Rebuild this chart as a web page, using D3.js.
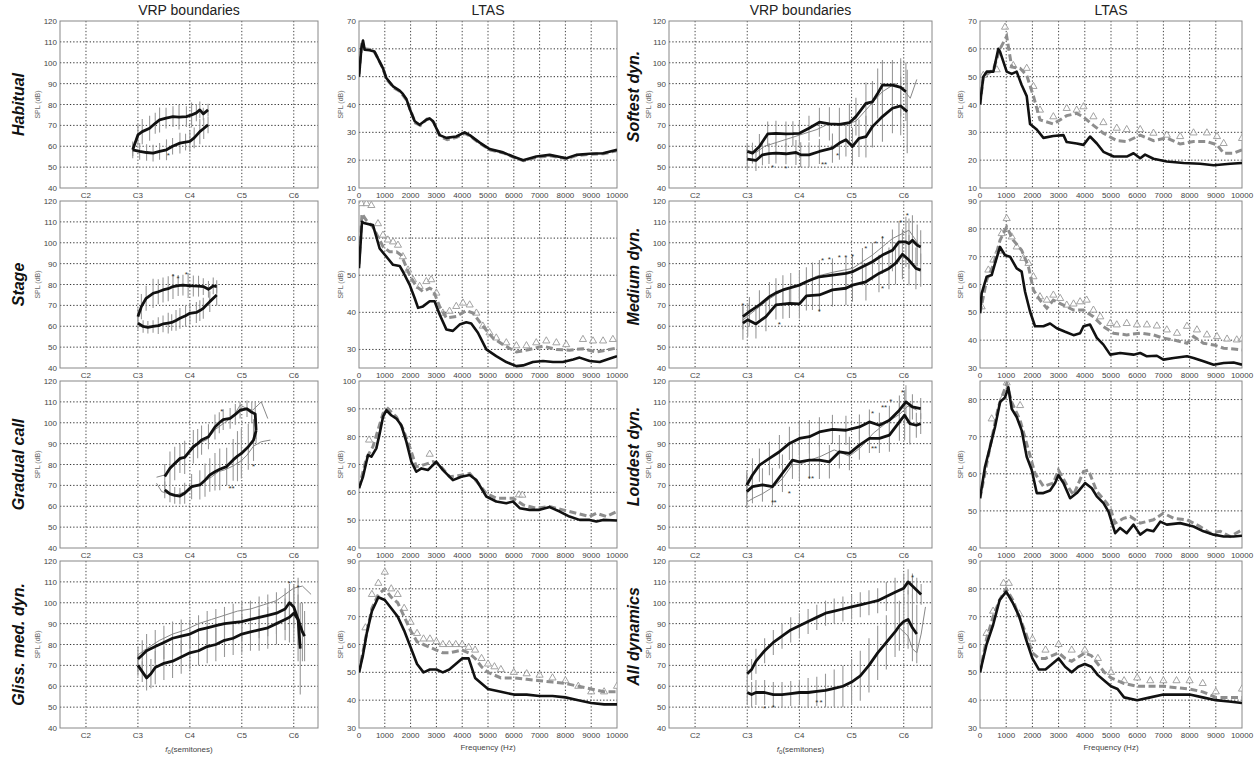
<!DOCTYPE html>
<html><head><meta charset="utf-8">
<script src="https://cdn.jsdelivr.net/npm/d3@7"></script>
<style>
body{margin:0;background:#fff}
svg{font-family:"Liberation Sans",Arial,sans-serif}
</style>
</head><body>
<svg id="fig" width="1255" height="757"></svg>
<script>
// ---------- axis ticks ----------
const noteTicks = [36, 48, 60, 72, 84];
const noteLabels = ["C2", "C3", "C4", "C5", "C6"];
const freqTicks = [0,1000,2000,3000,4000,5000,6000,7000,8000,9000,10000];
const vrpDbTicks = [40,50,60,70,80,90,100,110,120];

// ---------- VRP boundaries: [semitone, SPL dB, spread dB] ----------
const habitualUpper = [[46.8,58.3,4],[48,65.4,5],[49,67,6],[50.7,68.6,6],[52,71,5],[53,72.6,6],[54.5,73.5,5],[56.1,74.2,5],[57.5,74,6],[59.2,74.2,5],[60.4,75,6],[61.5,76,4],[62.3,77.4,4],[63.1,75.5,3],[64.2,77.4,3]];
const habitualLower = [[46.8,58.3,3],[48.4,57.5,4],[50,57,4],[51.5,56.7,4],[53,57.5,4],[54.6,58.3,5],[56,60,4],[57.7,61.5,5],[59,62,4],[60,62.3,5],[61,64,5],[62.3,67,6],[63.2,68.5,5],[64.2,70.2,4]];
const habitualStars = [[55,56.2]];

const stageUpper = [[48,64.6,4],[48.8,69.4,6],[49.9,73.4,6],[51.5,75.8,7],[52.7,76.5,6],[53.8,77.4,6],[55,78,6],[56.1,79,6],[57.3,79.5,5],[58.4,79.7,5],[59.6,79.5,6],[60.8,79.3,5],[62,79.2,5],[63.1,79,4],[64.3,77.7,4],[65.4,79.3,4],[66.2,79,3]];
const stageLower = [[48,61.5,3],[49.2,59.9,3],[50.3,59.5,3],[51.5,59.9,3],[52.7,60.3,4],[53.8,61.1,4],[55,61.5,5],[55.8,61.8,4],[56.8,62.8,5],[57.7,63.8,5],[59,65,5],[60,66.2,5],[61.5,66.6,5],[62.3,67.5,5],[63.1,68.6,5],[64.6,71.8,5],[66.2,75,5]];
const stageStars = [[56.1,84.5],[57.3,83.4],[59.2,85.3]];

const gradualUpper = [[54.2,74.2,6],[55.4,78.2,8],[56.5,80.5,8],[57.7,82.9,7],[58.8,83.4,8],[60.8,88.5,8],[61.8,90,7],[62.7,91.7,7],[64.3,93.3,6],[65.8,98,6],[66.8,100,5],[67.7,101.5,5],[69.3,102.1,5],[70.5,104,5],[71.6,106,4],[73.2,106.7,4],[74.3,105,5],[75.1,104.2,6],[75.3,96.2,4]];
const gradualLower = [[54.2,67.8,4],[55.4,65.9,4],[56.5,65.2,4],[57.7,64.9,4],[58.8,66.2,5],[60.4,69.4,6],[62.3,70.2,7],[63.5,72.5,8],[64.6,75,8],[65.8,76.5,9],[66.9,77.7,10],[68.5,79,9],[70,82.2,10],[71,84,12],[71.9,85.3,12],[73.5,88.5,11],[74.7,91.7,10],[75.3,96.2,6]];
const gradualThinA = [[52.3,73.9],[54.2,75],[56,79],[58,82.5],[60,86],[62,90],[64,92],[66,97],[68,100],[70,103],[71.6,108.4],[73,107],[74.5,106],[76.5,110],[78,102]];
const gradualThinB = [[52.3,71],[53.5,67],[55,66],[57,65.5],[59,67],[61,69.5],[63,71.5],[65,74],[66.6,76.6],[68,77.4],[70,79.3],[72,82],[73.2,84.5],[74.7,88.8],[76.5,90.9],[78.6,91.7]];
const gradualStars = [[67.4,106],[69.3,69.4],[70,69.4],[74.7,79.7]];

const glissUpper = [[48,73,6],[49,75,7],[50,77,8],[52,79,8],[54,81,8],[56,83,8],[58,84,8],[60,85,7],[62,87,7],[64,88,8],[66,89,8],[68,90,8],[70,90.5,9],[72,91,9],[74,92,9],[76,93,10],[78,94,10],[80,95,10],[82,97,10],[83,100,9],[84,98,10],[85,92,12],[86,86,14],[86.5,84,12]];
const glissLower = [[48,70,5],[49,67,5],[50,64,6],[51,66,7],[52,69,8],[54,71,8],[56,72,8],[58,74,8],[60,76,8],[62,77,7],[64,79,8],[66,80,8],[68,82,8],[70,83,8],[72,85,9],[74,86,9],[76,87,10],[78,88,10],[80,90,10],[82,92,10],[83,93,12],[84,95,14],[85,92,20],[85.5,78,22]];
const glissThin = [[48,75],[50,78],[53,82],[56,85],[59,87],[62,90],[65,92],[68,94],[71,96],[74,97],[77,99],[80,101],[82,104],[84,107],[86,108],[88,104]];
const glissStars = [[83,110],[85,108]];

const softestUpper = [[48,57.5,4],[49.2,56.7,5],[50.8,59.9,6],[52.7,65.9,6],[54.6,66.2,6],[56.9,65.9,6],[58.5,66,6],[60,66.2,6],[62.2,68.6,6],[64.6,71.5,7],[66.9,70.7,8],[69.2,70.5,8],[71.5,71.3,9],[73,74.2,9],[75.3,80.5,10],[76.8,81.3,10],[78,85.3,12],[79.1,89.3,12],[81.4,89.3,12],[83.3,88.2,14],[84.5,86.1,14]];
const softestLower = [[48,53.8,5],[50,53.2,5],[51.5,55.9,5],[53,56.5,5],[54.6,56.7,5],[56.9,56.4,5],[59.2,57,6],[60.3,55.9,6],[62.2,55.9,6],[64.6,57.5,6],[67.6,59.1,7],[69.2,61.5,8],[70.7,63.1,8],[72.2,59.9,9],[73.7,63.8,9],[75.3,64.6,10],[76.8,69.4,10],[79.1,74.2,12],[81.4,78.2,12],[83.3,79.3,14],[84.8,76.6,20]];
const softestThin = [[48,58],[50,57],[52,60],[55,62],[58,64],[61,66],[64,68],[67,71],[70,70],[73,72],[76,79],[79,86],[82,90],[84,87],[85.5,83],[87,92]];
const softestStars = [[53.8,50.3],[56.9,50],[65.3,52.2],[66,52.2],[68.8,56.4]];

const mediumUpper = [[47,64.6,6],[48.5,67,7],[50.8,70.2,7],[53.1,74.2,7],[54.6,76,7],[56.2,77.4,7],[58,78.5,7],[60,79.7,7],[61.6,81.3,7],[63,82.5,8],[64.6,83.7,8],[67.6,84.5,8],[70.7,85.3,8],[72.2,86.1,8],[74.5,88.5,9],[76.8,90.9,9],[79.1,94.1,9],[81.4,96.4,10],[82.9,100.4,10],[84.5,100.4,12],[85.2,99.6,12],[86,101.2,12],[87.1,98.8,10],[87.9,98,8]];
const mediumLower = [[47,61.5,8],[48.1,63.1,8],[50,61.1,7],[52.3,64.6,7],[54.6,70.2,7],[56.2,70.6,7],[57.7,71,7],[60,70.7,7],[61.6,74.5,7],[63,74.8,7],[64.6,75,8],[67.6,77.4,8],[70.7,78.2,8],[72.2,79.7,8],[75.3,81.3,9],[78.3,85.3,9],[80.6,87.7,10],[82.1,90.1,10],[83.7,94.5,12],[85.2,91.7,12],[86.8,87.7,10],[87.9,86.9,8]];
const mediumThin = [[47,63],[50,68],[53,73],[56,77],[60,80],[64,84],[68,86],[72.2,87.7],[76.8,94.1],[81.4,102],[85.2,106],[87.5,99]];
const mediumStars = [[65.3,92],[66.9,92.5],[69.2,93.7],[70.7,93.7],[72.2,94],[75.3,98],[77.6,100.4],[79.1,102.8],[83.3,110.4],[84.8,114],[79.1,79],[64.6,68],[55.4,61.5],[47,70.5]];

const loudestUpper = [[47.9,70.2,7],[49.2,75,8],[50.8,79.7,8],[53.1,82.9,8],[55.4,86.1,8],[57.7,90.1,8],[60,92.5,8],[62.3,93.3,8],[64.6,95.6,7],[67.6,96.8,7],[70.7,96.4,7],[73.8,98,6],[76.1,100.4,6],[78.4,98.8,6],[80.7,101.2,7],[83,106,7],[84.5,110,8],[86,107.6,6],[87.9,106.8,5]];
const loudestLower = [[47.9,67,8],[49.2,69.4,8],[51.5,70.2,8],[53.8,69.4,9],[56.1,75.8,9],[58.4,82.1,9],[60,81.3,9],[62.3,82.1,9],[64.6,82.1,9],[66.9,81.3,8],[69.2,86.1,8],[71.5,85.3,8],[73.8,89.3,7],[76.1,92.5,7],[78.4,92.5,7],[80.7,94.1,8],[83,100.4,9],[84.2,103.6,12],[85.4,99.6,10],[86.9,98.8,6],[87.9,99.6,5]];
const loudestThin = [[47.9,62],[49.5,64],[51.5,66],[53.8,69],[56,73],[58.4,80],[60,80],[62.3,82],[65,84],[68,87],[71.5,84],[74,88],[77,95],[80,100],[83,104],[85,108],[87,106]];
const loudestStars = [[76.8,105.2],[79.1,107.9],[79.8,107.9],[81,110.7],[83.7,115.2],[53.8,62.7],[54.4,62.7],[57.7,67],[62.3,73.9],[63,73.9],[76.8,88.2],[77.5,88.2]];

const allUpper = [[48,66,4],[49,68,5],[50,72,6],[52,77,6],[54,81,6],[56,84,6],[58,87,6],[60,89,6],[62,91,6],[64,93,6],[66,95,6],[68,96,6],[70,97,6],[72,98,6],[74,99,6],[76,100,6],[78,101,6],[80,103,7],[82,105,7],[84,107,7],[85,110,6],[86,108,6],[87,106,6],[88,104,5]];
const allLower = [[48,57,6],[49,56,6],[50,57,6],[52,57,6],[54,56,6],[56,56,6],[58,56.5,6],[60,57,6],[62,57,7],[64,57.5,7],[66,58,8],[68,59,9],[70,60,10],[72,62,11],[74,65,12],[76,70,13],[78,76,13],[80,81,13],[82,86,12],[83,89,12],[84,91,12],[85,92,14],[86,88,16],[87,85,14]];
const allThin = [[83,88],[85,84],[86,78],[87,76],[88,85],[89,98]];
const allStars = [[52,50],[54,50.5],[64,53],[65,53],[86,113]];

// ---------- LTAS: [Hz, SPL dB] ----------
const habitualLtasBlack = [[0,50],[90,60],[155,63],[220,59.7],[413,59.5],[600,59],[930,53],[1060,49.5],[1320,46.5],[1576,45],[1700,43.8],[1835,42],[1964,38.5],[2160,34],[2350,32.7],[2610,34.5],[2740,35],[2870,34],[3125,29],[3385,28],[3770,28.5],[4095,30],[4290,29],[4680,26.3],[5065,24],[5580,22.8],[5970,21.3],[6360,20],[6870,21.3],[7390,21.9],[8040,20.7],[8420,21.9],[8940,22.3],[9460,22.5],[10000,23.7]];
const habitualLtasDash = [[0,51],[100,61],[200,60],[420,59.8],[620,58.6],[900,53.5],[1080,49],[1350,46],[1600,44.6],[1850,41.5],[2000,37.8],[2180,33.4],[2380,32.5],[2640,34.8],[2780,34.8],[2900,33.5],[3150,28.5],[3420,27.4],[3780,28.2],[4100,29.6],[4320,28.6],[4700,25.9],[5100,23.6],[5600,22.6],[6000,21],[6380,19.8],[6900,21],[7400,21.6],[8060,20.5],[8450,21.7],[8960,22.1],[9480,22.3],[10000,23.4]];
const habitualLtasTri = [];

const stageLtasBlack = [[0,51.9],[116,64.4],[220,64],[540,63.5],[670,60.4],[800,57.2],[1120,54.5],[1320,52.8],[1576,52.5],[1700,51],[1964,47.4],[2160,43.8],[2290,41.2],[2480,41.6],[2740,43],[2930,43],[3125,39.4],[3385,35.4],[3640,35],[3900,36.7],[4160,37.3],[4350,37],[4610,34.5],[4935,30],[5320,28.2],[5710,26.6],[6100,25.5],[6360,25.7],[6740,26.6],[7130,26.9],[7520,26.6],[7900,26.6],[8300,27.3],[8550,27.8],[8940,26.9],[9330,26.6],[9700,27.5],[10000,28.2]];
const stageLtasDash = [[0,53],[116,66.6],[284,64.8],[540,63],[800,59.5],[930,57.7],[1190,56.3],[1450,56.3],[1640,55.4],[1964,50],[2220,47],[2480,45.6],[2740,46.5],[2870,46],[3125,41.6],[3385,38.5],[3770,38.9],[4160,40.5],[4420,39.8],[4800,36.3],[5190,33.1],[5580,31.3],[6100,29.3],[6610,30],[7130,30.9],[7650,30],[8160,29.8],[8680,30.2],[9200,29.3],[9700,30],[10000,30.4]];
const stageLtasTri = [[90,69.3],[290,69.3],[478,68.8],[736,63.9],[930,60.8],[1120,59.5],[1320,59],[1510,58.1],[1700,55],[1900,51.4],[2090,48.8],[2350,47],[2610,48.3],[2800,48.8],[3000,45.2],[3250,39.8],[3510,40.3],[3770,41.6],[4030,42.5],[4290,42],[4550,39.8],[4800,36.3],[5060,34.5],[5320,33.1],[5710,31.8],[6100,31],[6490,31],[6870,31.8],[7260,32.3],[7650,31.8],[8030,31.3],[8680,32.7],[9070,32.3],[9460,32.3],[9840,32.7]];

const gradualLtasBlack = [[0,61.5],[155,65.6],[349,73.4],[478,72.8],[672,75.8],[800,81.1],[930,87.1],[1060,89.5],[1250,87.7],[1450,86.5],[1640,84.1],[1835,78.2],[2030,71],[2220,67.4],[2420,68.6],[2670,68],[2995,71],[3255,68],[3640,64.4],[3965,65.6],[4290,66.2],[4550,64.4],[4935,58.5],[5320,56.7],[5710,56.1],[5970,56.7],[6230,54.3],[6610,53.7],[7000,53.7],[7390,54.7],[7780,53.1],[8160,51.3],[8550,50.1],[8940,50.1],[9200,49.5],[9460,50.1],[10000,49.9]];
const gradualLtasDash = [[0,61.5],[284,72.2],[540,76.4],[930,88.3],[1120,90.1],[1450,87.1],[1700,82.9],[1960,76.4],[2220,69.2],[2480,69.8],[2870,71],[3125,69.8],[3510,65.6],[4030,66.2],[4290,66.8],[4680,62.6],[4935,59.6],[5320,57.9],[5970,57.9],[6360,55.5],[6870,54.3],[7390,54.9],[7900,53.7],[8420,52.5],[8940,51.3],[9200,52.5],[9590,51.3],[10000,53.1]];
const gradualLtasTri = [[390,78.8],[2740,73.7],[6200,59.1],[6330,59]];

const glissLtasBlack = [[0,50],[150,56],[300,64],[500,72],[750,77],[1000,76],[1250,73],[1500,70],[1750,65],[2000,59],[2250,53],[2500,50],[2750,51],[3000,51],[3250,50],[3500,51],[3750,53],[4000,55],[4250,55],[4500,48],[4750,46],[5000,44],[5500,43],[6000,42],[6500,42],[7000,41.5],[7500,41.5],[8000,41],[8500,40],[9000,39],[9500,38.5],[10000,38.5]];
const glissLtasDash = [[0,50],[250,62],[500,73],[750,78],[1000,80],[1250,77],[1500,75],[1750,70],[2000,65],[2250,61],[2500,60],[2750,59],[3000,58],[3250,57],[3500,57],[3750,57.5],[4000,58],[4250,57],[4500,55],[4750,52],[5000,50],[5500,48],[6000,48],[6500,47.5],[7000,47],[7500,46.5],[8000,46],[8500,45],[9000,44],[9500,43],[10000,43]];
const glissLtasTri = [[250,66],[500,78],[750,82],[1000,86],[1250,80],[1500,78],[1750,73],[2000,68],[2250,64],[2500,62],[2750,62],[3000,61],[3250,60],[3500,60],[3750,60],[4000,60],[4250,59],[4500,58],[4750,55],[5000,53],[5250,52],[5500,51],[6000,50],[6500,49.5],[7000,49],[7500,48],[8000,47],[8500,45],[9000,43],[9500,43],[10000,45]];

const softestLtasBlack = [[0,40],[127,50],[255,51.8],[510,51.8],[700,60],[764,59],[1019,51.8],[1210,51],[1400,51.8],[1590,47],[1783,43],[1910,33],[2166,31],[2420,28],[2800,28.7],[3185,29],[3310,26.5],[3690,26],[3950,25.5],[4200,28.5],[4460,26],[4710,23],[5100,21.3],[5600,21.3],[5860,22.5],[6115,20.7],[6300,22],[6620,20.5],[7130,19.5],[7770,19],[8400,18.7],[8920,18.2],[9550,18.7],[10000,19]];
const softestLtasDash = [[0,40],[127,50],[510,52.5],[764,60],[1019,64.5],[1210,53.5],[1530,53],[1783,50.5],[2040,43],[2290,34.5],[2800,33],[3310,36],[3690,36.8],[3950,35.5],[4330,32.5],[4710,29.7],[5220,27],[5600,26.7],[6115,29],[6620,27],[7130,28],[7640,25.8],[8150,26.7],[8660,26.7],[9045,25.5],[9300,22.5],[9680,22.5],[10000,23.7]];
const softestLtasTri = [[127,50.5],[640,52.5],[955,67.8],[1270,54],[1783,53],[2040,46.5],[2290,38],[2800,35.6],[3310,38.6],[3690,38],[3950,39.2],[4330,35.6],[4710,33.5],[5220,31.5],[5600,31],[6115,31],[6620,29.7],[7130,29],[7640,28.5],[8150,29.8],[8660,29.8],[9045,28.5],[9300,26],[10000,27.8]];

const mediumLtasBlack = [[0,49.7],[64,56.8],[255,62.8],[446,63.4],[573,67.6],[764,73.5],[955,70.5],[1146,70],[1400,65.8],[1590,64.6],[1720,57.4],[1910,50.3],[2100,45],[2420,45],[2675,46],[2930,44.3],[3250,43],[3570,41.8],[3820,42.5],[3950,45],[4200,45.6],[4460,40.8],[4710,38.4],[4970,34.8],[5350,35.4],[5860,34.8],[6115,35.4],[6370,34.2],[6750,34.4],[7000,33],[7390,33.6],[7900,34.2],[8150,33.6],[8530,32.4],[8920,31.2],[9300,31.8],[9680,32],[10000,31.2]];
const mediumLtasDash = [[0,49.7],[255,61.6],[510,67],[764,75.9],[1019,80.7],[1270,75.9],[1590,72.3],[1850,66.4],[2040,58],[2290,54.4],[2550,51.5],[2800,54.4],[3185,52.6],[3570,50.8],[3950,50.8],[4330,48.4],[4710,44.9],[5100,42.5],[5600,41.9],[6115,42.5],[6620,41.9],[7000,40.7],[7390,40.1],[7900,38.9],[8150,41.3],[8530,38.9],[8920,38.3],[9300,37.1],[9680,36.8],[10000,36.5]];
const mediumLtasTri = [[64,52],[318,65.2],[510,68.8],[700,72],[828,78.3],[1019,83.7],[1210,77.1],[1400,73.5],[1655,69.4],[1850,67.6],[2040,62.8],[2290,55.6],[2550,54.4],[2800,56.2],[3060,55],[3310,52.6],[3570,53],[3820,53.8],[4070,54.4],[4330,50.8],[4590,48.4],[4970,46],[5220,45.5],[5600,46],[5990,45.5],[6370,45.5],[6750,45.1],[7130,43.7],[7520,42.5],[7900,45],[8280,43.7],[8660,41.9],[9045,41.3],[9430,40.4],[9800,40.1],[10000,40.4]];

const loudestLtasBlack = [[0,53.4],[191,61.9],[382,67.2],[573,72.6],[764,79.3],[955,80.6],[1083,83.3],[1210,77.5],[1400,75.3],[1590,71.7],[1783,64.6],[1975,61],[2166,54.8],[2420,54.8],[2675,55.5],[2866,57.5],[2993,59.6],[3185,57.5],[3440,53.4],[3695,54.8],[4013,57.5],[4268,56.1],[4458,53.9],[4713,52.1],[4904,49.8],[5160,44],[5350,45.4],[5600,44],[5860,46.3],[6115,43.6],[6370,44.9],[6620,44.5],[6880,47.1],[7130,46.3],[7640,46.7],[8150,45.8],[8530,44.5],[8920,43.6],[9300,43.1],[9680,43.1],[10000,43.3]];
const loudestLtasDash = [[0,53.4],[382,67.2],[700,78],[1019,84.3],[1210,79.3],[1530,74.4],[1850,66.4],[2100,60.1],[2420,56.6],[2800,57.5],[2993,61],[3310,57],[3570,54.3],[3950,60.6],[4140,61],[4460,55.2],[4840,52.1],[4970,50.7],[5160,46.7],[5480,48],[5730,48.5],[6115,46.7],[6620,47.6],[7000,49.4],[7390,48],[7900,47.6],[8400,45.8],[8790,44],[9170,44.5],[9550,43.1],[10000,44.9]];
const loudestLtasTri = [[446,74.8],[890,80.6],[1019,84.5],[1530,78.4]];

const allLtasBlack = [[0,50],[250,60],[500,67],[750,76],[1000,79],[1250,75],[1500,70],[1750,62],[2000,55],[2250,51],[2500,51],[2750,53],[3000,55],[3250,52],[3500,50],[3750,52],[4000,53],[4250,52],[4500,49],[4750,47],[5000,45],[5250,44],[5500,41],[6000,40],[6500,41],[7000,42],[7500,42],[8000,42],[8500,41],[9000,40],[9500,39.5],[10000,39]];
const allLtasDash = [[0,50],[250,62],[500,70],[750,76],[1000,80],[1250,76],[1500,70],[1750,64],[2000,57],[2250,55],[2500,55],[3000,57],[3250,55],[3500,54],[4000,57],[4250,56],[4500,53],[4750,50],[5000,48],[5500,46],[6000,45],[6500,45],[7000,45],[7500,44.5],[8000,44],[8500,43],[9000,41],[9500,41],[10000,41]];
const allLtasTri = [[250,64],[500,72],[900,82],[1100,82],[1500,71],[2000,62],[2500,58],[3000,60],[3500,58],[4000,58],[4500,55],[5000,50],[5500,47],[6000,48],[6500,47],[7000,47],[7500,47],[8000,47],[8500,46],[9000,43],[10000,44]];

// ---------- panel layout ----------
const colBox = [[60,318],[359,617],[669,932],[980,1242]];
const rowTop = [21,201,381,561];
const plotH = 167;
const vrpDomain = [[30,89.6],null,[30,90.5],null];

const vrpPanels = [
  {row:0,col:0,upper:habitualUpper,lower:habitualLower,thin:[],stars:habitualStars},
  {row:1,col:0,upper:stageUpper,lower:stageLower,thin:[],stars:stageStars},
  {row:2,col:0,upper:gradualUpper,lower:gradualLower,thin:[gradualThinA,gradualThinB],stars:gradualStars},
  {row:3,col:0,upper:glissUpper,lower:glissLower,thin:[glissThin],stars:glissStars},
  {row:0,col:2,upper:softestUpper,lower:softestLower,thin:[softestThin],stars:softestStars},
  {row:1,col:2,upper:mediumUpper,lower:mediumLower,thin:[mediumThin],stars:mediumStars},
  {row:2,col:2,upper:loudestUpper,lower:loudestLower,thin:[loudestThin],stars:loudestStars},
  {row:3,col:2,upper:allUpper,lower:allLower,thin:[allThin],stars:allStars}
];
const ltasPanels = [
  {row:0,col:1,y:[10,70],ticks:[10,20,30,40,50,60,70],black:habitualLtasBlack,dash:habitualLtasDash,tri:habitualLtasTri},
  {row:1,col:1,y:[25,70],ticks:[30,40,50,60,70],black:stageLtasBlack,dash:stageLtasDash,tri:stageLtasTri},
  {row:2,col:1,y:[40,100],ticks:[40,50,60,70,80,90,100],black:gradualLtasBlack,dash:gradualLtasDash,tri:gradualLtasTri},
  {row:3,col:1,y:[30,90],ticks:[30,40,50,60,70,80,90],black:glissLtasBlack,dash:glissLtasDash,tri:glissLtasTri},
  {row:0,col:3,y:[10,70],ticks:[10,20,30,40,50,60,70],black:softestLtasBlack,dash:softestLtasDash,tri:softestLtasTri},
  {row:1,col:3,y:[30,90],ticks:[30,40,50,60,70,80,90],black:mediumLtasBlack,dash:mediumLtasDash,tri:mediumLtasTri},
  {row:2,col:3,y:[40,85],ticks:[40,50,60,70,80],black:loudestLtasBlack,dash:loudestLtasDash,tri:loudestLtasTri},
  {row:3,col:3,y:[30,90],ticks:[30,40,50,60,70,80,90],black:allLtasBlack,dash:allLtasDash,tri:allLtasTri}
];
const rowLabelsLeft = ["Habitual","Stage","Gradual call","Gliss. med. dyn."];
const rowLabelsRight = ["Softest dyn.","Medium dyn.","Loudest dyn.","All dynamics"];
const colTitles = ["VRP boundaries","LTAS","VRP boundaries","LTAS"];

const svg = d3.select("#fig");
const defs = svg.append("defs");
let clipId = 0;

function panelFrame(x, y, tickValsX, tickValsY, tickFmtX, tickFmtY) {
  const [x0,x1] = x.range(), [yb,yt] = y.range();
  const g = svg.append("g");
  const id = "clip" + (clipId++);
  defs.append("clipPath").attr("id", id).append("rect")
    .attr("x", x0).attr("y", yt).attr("width", x1 - x0).attr("height", yb - yt);
  // dotted grid
  g.selectAll(".gx").data(tickValsX.filter(v => x(v) > x0 + 1 && x(v) < x1 - 1)).join("line")
    .attr("x1", d => x(d)).attr("x2", d => x(d)).attr("y1", yt).attr("y2", yb)
    .attr("stroke", "#444").attr("stroke-width", 1).attr("stroke-dasharray", "1.3,2");
  g.selectAll(".gy").data(tickValsY.filter(v => y(v) > yt + 1 && y(v) < yb - 1)).join("line")
    .attr("y1", d => y(d)).attr("y2", d => y(d)).attr("x1", x0).attr("x2", x1)
    .attr("stroke", "#333").attr("stroke-width", 1).attr("stroke-dasharray", "1.3,2");
  g.append("rect").attr("x", x0).attr("y", yt).attr("width", x1 - x0).attr("height", yb - yt)
    .attr("fill", "none").attr("stroke", "#888").attr("stroke-width", 1);
  // tick labels
  g.selectAll(".ly").data(tickValsY).join("text")
    .attr("x", x0 - 3).attr("y", d => y(d) + 3).attr("text-anchor", "end")
    .attr("font-size", 8).attr("fill", "#444").text(tickFmtY);
  g.selectAll(".lx").data(tickValsX).join("text")
    .attr("x", d => x(d)).attr("y", yb + 10).attr("text-anchor", "middle")
    .attr("font-size", 8).attr("fill", "#444").text(tickFmtX);
  return {g, clip: "url(#" + id + ")"};
}

function splLabel(cx, cy) {
  const t = svg.append("text").attr("transform", `translate(${cx},${cy}) rotate(-90)`)
    .attr("text-anchor", "middle").attr("font-size", 7).attr("fill", "#666");
  t.append("tspan").text("SPL");
  t.append("tspan").text(" (dB)");
}

// ---------- VRP panels ----------
vrpPanels.forEach(p => {
  const [x0,x1] = colBox[p.col];
  const top = rowTop[p.row];
  const x = d3.scaleLinear().domain(vrpDomain[p.col]).range([x0, x1]);
  const y = d3.scaleLinear().domain([40,120]).range([top + plotH, top]);
  const {clip} = panelFrame(x, y, noteTicks, vrpDbTicks, (d,i) => noteLabels[i], d => d);
  const data = svg.append("g").attr("clip-path", clip);
  // spread bars
  [p.upper, p.lower].forEach(s => {
    data.selectAll(null).data(s).join("line")
      .attr("x1", d => x(d[0])).attr("x2", d => x(d[0]))
      .attr("y1", d => y(d[1] - d[2])).attr("y2", d => y(d[1] + d[2]))
      .attr("stroke", "#999").attr("stroke-width", 1.1);
  });
  const line = d3.line().x(d => x(d[0])).y(d => y(d[1])).curve(d3.curveLinear);
  p.thin.forEach(s => data.append("path").attr("d", line(s))
    .attr("fill", "none").attr("stroke", "#888").attr("stroke-width", 1));
  [p.upper, p.lower].forEach(s => data.append("path").attr("d", line(s))
    .attr("fill", "none").attr("stroke", "#111").attr("stroke-width", 2.8)
    .attr("stroke-linejoin", "round"));
  data.selectAll(null).data(p.stars).join("text")
    .attr("x", d => x(d[0])).attr("y", d => y(d[1]) + 4).attr("text-anchor", "middle")
    .attr("font-size", 8).attr("fill", "#333").text("*");
});

// ---------- LTAS panels ----------
ltasPanels.forEach(p => {
  const [x0,x1] = colBox[p.col];
  const top = rowTop[p.row];
  const x = d3.scaleLinear().domain([0,10000]).range([x0, x1]);
  const y = d3.scaleLinear().domain(p.y).range([top + plotH, top]);
  const {clip} = panelFrame(x, y, freqTicks, p.ticks, d => d, d => d);
  const data = svg.append("g").attr("clip-path", clip);
  const line = d3.line().x(d => x(d[0])).y(d => y(d[1]));
  const tri = d3.symbol().type(d3.symbolTriangle).size(22);
  data.selectAll(null).data(p.tri).join("path")
    .attr("d", tri).attr("transform", d => `translate(${x(d[0])},${y(d[1])})`)
    .attr("fill", "#fff").attr("fill-opacity", 0.6).attr("stroke", "#999").attr("stroke-width", 0.9);
  data.append("path").attr("d", line(p.dash)).attr("fill", "none")
    .attr("stroke", "#8e8e8e").attr("stroke-width", 3).attr("stroke-dasharray", "7,3.5");
  data.append("path").attr("d", line(p.black)).attr("fill", "none")
    .attr("stroke", "#111").attr("stroke-width", 2.6).attr("stroke-linejoin", "round");
});

// ---------- labels ----------
const colCenters = colBox.map(([a,b]) => (a + b) / 2);
colTitles.forEach((t, i) => svg.append("text").attr("x", colCenters[i]).attr("y", 15)
  .attr("text-anchor", "middle").attr("font-size", 14).attr("fill", "#222").text(t));

rowTop.forEach((t, r) => {
  const cy = t + plotH / 2;
  svg.append("text").attr("transform", `translate(24,${cy}) rotate(-90)`)
    .attr("text-anchor", "middle").attr("font-size", 16).attr("font-weight", "bold")
    .attr("font-style", "italic").attr("fill", "#111").text(rowLabelsLeft[r]);
  svg.append("text").attr("transform", `translate(639,${cy - 8}) rotate(-90)`)
    .attr("text-anchor", "middle").attr("font-size", 16).attr("font-weight", "bold")
    .attr("font-style", "italic").attr("fill", "#111").text(rowLabelsRight[r]);
  splLabel(40, cy);
  splLabel(343, cy);
  splLabel(651, cy);
  splLabel(963, cy);
});

// bottom axis titles
[colCenters[0], colCenters[2]].forEach(cx => {
  const t = svg.append("text").attr("x", cx).attr("y", 752).attr("text-anchor", "middle")
    .attr("font-size", 8).attr("fill", "#444");
  t.append("tspan").attr("font-style", "italic").text("f");
  t.append("tspan").attr("font-size", 6).attr("dy", 2).text("0");
  t.append("tspan").attr("dy", -2).text("(semitones)");
});
[colCenters[1], colCenters[3]].forEach(cx => {
  svg.append("text").attr("x", cx).attr("y", 750).attr("text-anchor", "middle")
    .attr("font-size", 8).attr("fill", "#444").text("Frequency (Hz)");
});
</script>
</body></html>
